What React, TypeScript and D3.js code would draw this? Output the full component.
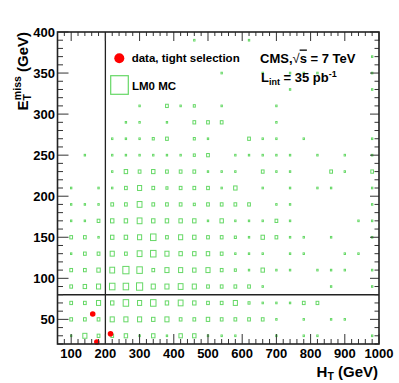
import React from "react";
import * as d3 from "d3";

// ---- data ----
const htCenters = [100, 140, 180, 220, 260, 300, 340, 380, 420, 460, 500, 540, 580, 620, 660, 700, 740, 780, 820, 860, 900, 940, 980];
const metCenters = [30, 50, 70, 90, 110, 130, 150, 170, 190, 210, 230, 250, 270, 290, 310, 330, 350, 370, 390];
// LM0 MC box content (relative), one row per MET bin, one entry per HT bin
const lm0Counts = [
  [1, 3, 2, 2, 2.5, 1, 2.5, 1, 2.5, 2.5, 1, 1, 1, 0, 0, 1, 0, 1, 1, 0, 0, 0, 1],
  [2, 2, 2, 3, 3, 3, 2.5, 3, 2, 2, 2.5, 2, 2, 2, 2, 1, 0, 1, 0, 1, 1, 0, 0],
  [2, 2, 3, 2.5, 4, 3, 4, 2.5, 3.5, 2.5, 2, 2, 3, 1.5, 1, 1, 1, 2, 2, 0, 0, 0, 0],
  [2, 2.5, 3, 4, 4, 4.5, 3, 3, 3.5, 3, 2, 2, 2, 2, 1, 0, 0, 0, 0, 1, 0, 0, 1],
  [2, 2, 2.5, 3.5, 4.5, 4, 2, 3, 3, 2.5, 3, 2, 1.5, 1, 2.5, 1, 1, 0, 1, 1, 1, 0, 1],
  [1, 2, 2, 3, 2, 3.5, 4, 3, 2.5, 2.5, 2.5, 2, 1, 1, 1, 0, 1, 1, 0, 0, 1, 1, 0],
  [2, 2, 1, 2.5, 2.5, 3, 4, 2, 3, 2.5, 2, 2, 1.5, 1, 2.5, 2, 1, 1, 0, 1, 0, 0, 1],
  [1, 1, 2, 2.5, 2.5, 3.5, 2.5, 2.5, 2.5, 2.5, 1, 2.5, 1, 1, 1, 2, 1, 0, 0, 0, 0, 1, 1],
  [1, 1, 1, 2, 2, 3.5, 2, 2, 2, 1.5, 2, 2, 2, 2, 0, 1, 1, 0, 0, 0, 0, 0, 1],
  [1, 0, 1, 1, 2, 3, 2, 1.5, 2, 2, 2, 1, 2.5, 0, 1, 0, 1, 0, 1, 1, 0, 0, 1],
  [0, 0, 0, 1, 2.5, 2, 2.5, 2, 2, 2, 1, 1, 1, 0, 2, 1, 1, 0, 0, 2, 1, 0, 2],
  [0, 1, 0, 1, 1, 1, 1, 1, 1, 1.5, 2, 0, 1, 1, 1, 1, 1, 0, 1, 0, 1, 0, 1],
  [0, 0, 0, 1, 1, 1, 1.5, 2, 0, 1.5, 1, 0, 0, 2, 1, 1, 0, 1, 0, 0, 0, 0, 1],
  [0, 0, 0, 0, 1, 1, 0, 1, 0, 2, 2, 2, 0, 0, 0, 1, 0, 0, 0, 0, 0, 0, 0],
  [0, 0, 0, 0, 0, 1, 0, 2, 1, 1.5, 0, 1, 0, 0, 0, 1, 0, 0, 0, 0, 0, 0, 0],
  [0, 0, 0, 0, 0, 0, 0, 0, 0, 0, 0, 0, 0, 0, 0, 0, 1, 0, 0, 0, 0, 0, 1],
  [0, 0, 0, 0, 0, 0, 0, 0, 0, 0, 0, 1, 0, 0, 1, 0, 1, 1, 1, 0, 0, 0, 1],
  [0, 0, 0, 0, 0, 0, 0, 0, 0, 0, 0, 0, 0, 0, 0, 0, 0, 0, 0, 0, 0, 0, 1],
  [0, 0, 0, 0, 0, 0, 0, 0, 0, 1, 0, 0, 0, 1, 0, 0, 0, 0, 0, 0, 0, 0, 0],
];
const dataHT = [163, 215, 175];
const dataMET = [56.5, 32.5, 22.5];
const xTickLabels = [100, 200, 300, 400, 500, 600, 700, 800, 900, 1000];
const yTickLabels = [50, 100, 150, 200, 250, 300, 350, 400];
const htCut = 200;
const metCut = 80;

const FONT = "'Liberation Sans', Arial, Helvetica, sans-serif";
const GREEN = "#66d866";

export default function App() {
  const L = 57.5, R = 379, T = 32, B = 344;
  const x = d3.scaleLinear().domain([60, 1000]).range([L, R]);
  const y = d3.scaleLinear().domain([20, 400]).range([B, T]);
  const binW = x(100) - x(60);
  const binH = y(20) - y(40);
  const frac = d3.scaleLinear().domain([0, 10]).range([0, 1]);

  const boxes: JSX.Element[] = [];
  lm0Counts.forEach((row, ri) => {
    row.forEach((v, ci) => {
      if (v <= 0) return;
      const w = binW * frac(v);
      const h = binH * frac(v);
      const cx = x(htCenters[ci]);
      const cy = y(metCenters[ri]);
      boxes.push(
        <rect key={`b${ri}-${ci}`} x={cx - w / 2} y={cy - h / 2} width={w} height={h}
          fill="none" stroke={GREEN} strokeWidth={1} />
      );
    });
  });

  const xMinor = d3.range(60, 1001, 20);
  const yMinor = d3.range(20, 401, 10);
  const tickColor = "#333";

  return (
    <svg width={399} height={383} style={{ position: "absolute", left: 0, top: 0, background: "#fff" }}
      fontFamily={FONT}>
      <rect x={0} y={0} width={399} height={383} fill="#fff" />
      {boxes}
      {/* cut lines */}
      <line x1={x(htCut)} x2={x(htCut)} y1={T} y2={B} stroke="#222" strokeWidth={1.3} />
      <line x1={L} x2={R} y1={y(metCut)} y2={y(metCut)} stroke="#222" strokeWidth={1.3} />
      {/* data */}
      {dataHT.map((h, i) => (
        <circle key={`d${i}`} cx={x(h)} cy={y(dataMET[i])} r={2.8} fill="#ff0000" />
      ))}
      {/* ticks */}
      {xMinor.map((v) => {
        const major = v % 100 === 0;
        return (
          <g key={`xt${v}`}>
            <line x1={x(v)} x2={x(v)} y1={B} y2={B - (major ? 10 : 5)} stroke={tickColor} strokeWidth={1} />
            <line x1={x(v)} x2={x(v)} y1={T} y2={T + (major ? 9 : 4)} stroke={tickColor} strokeWidth={1} />
          </g>
        );
      })}
      {yMinor.map((v) => {
        const major = v % 50 === 0;
        return (
          <g key={`yt${v}`}>
            <line x1={L} x2={L + (major ? 11 : 5.5)} y1={y(v)} y2={y(v)} stroke={tickColor} strokeWidth={1} />
            <line x1={R} x2={R - (major ? 9 : 4.5)} y1={y(v)} y2={y(v)} stroke={tickColor} strokeWidth={1} />
          </g>
        );
      })}
      {/* frame */}
      <rect x={L} y={T} width={R - L} height={B - T} fill="none" stroke="#222" strokeWidth={1.6} />
      {/* tick labels */}
      {xTickLabels.map((v) => (
        <text key={`xl${v}`} x={x(v)} y={358} textAnchor="middle" fontSize={13} fontWeight="bold">{v}</text>
      ))}
      {yTickLabels.map((v) => (
        <text key={`yl${v}`} x={55} y={y(v) + 4.6} textAnchor="end" fontSize={13} fontWeight="bold">{v}</text>
      ))}
      {/* axis titles */}
      <text x={378} y={377} textAnchor="end" fontSize={15} fontWeight="bold">
        H<tspan fontSize={10.5} dy={3}>T</tspan><tspan dy={-3}> (GeV)</tspan>
      </text>
      <text transform="translate(28,32) rotate(-90)" textAnchor="end" fontSize={15} fontWeight="bold">
        E<tspan fontSize={10.5} dy={3}>T</tspan><tspan fontSize={10.5} dx={-6} dy={-10}>miss</tspan><tspan dy={7}> (GeV)</tspan>
      </text>
      {/* legend */}
      <circle cx={119.3} cy={58.3} r={5} fill="#ff0000" />
      <text x={131.7} y={62} fontSize={11.5} fontWeight="bold">data, tight selection</text>
      <rect x={110.7} y={75.7} width={17.6} height={18.6} fill="none" stroke={GREEN} strokeWidth={1.2} />
      <text x={132} y={89.5} fontSize={11.5} fontWeight="bold">LM0 MC</text>
      {/* CMS label */}
      <text x={260} y={62.5} fontSize={13} fontWeight="bold">
        CMS,<tspan fontWeight="normal">√</tspan><tspan style={{ textDecoration: "overline" }}>s</tspan> = 7 TeV
      </text>
      <text x={261} y={82} fontSize={13} fontWeight="bold">
        L<tspan fontSize={9} dy={3}>int</tspan><tspan dy={-3}> = 35 pb</tspan><tspan fontSize={9} dy={-5}>-1</tspan>
      </text>
    </svg>
  );
}
